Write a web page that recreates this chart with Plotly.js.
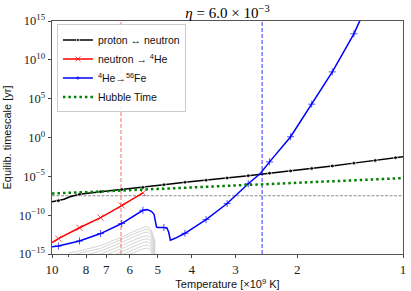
<!DOCTYPE html>
<html>
<head>
<meta charset="utf-8">
<script src="https://cdn.plot.ly/plotly-3.0.1.min.js"></script>
<style>html,body{margin:0;padding:0;background:#fff;}#chart{width:411px;height:291px;}</style>
</head>
<body>
<div id="chart"></div>
<script>
// Temperature in units of 1e9 K; timescales, stored as log10(yr)
const protonT      = [10, 9.59, 9.24, 8.89, 8.60, 8.35, 7.27, 6.33, 5.51, 4.80, 4.18, 3.64, 3.17, 2.76, 2.40, 2.09, 1.82, 1.59, 1.38, 1.20, 1.05, 1.0];
const protonLog10  = [-8.27, -8.14, -7.95, -7.63, -7.44, -7.31, -6.98, -6.70, -6.44, -6.08, -5.76, -5.50, -5.21, -4.92, -4.60, -4.30, -3.99, -3.66, -3.30, -2.96, -2.60, -2.47];
const protonMarked = [0, 1, 0, 0, 0, 1, 1, 1, 1, 1, 1, 1, 1, 1, 1, 1, 1, 1, 1, 1, 1, 0];

const neutronT     = [10, 9.59, 8.35, 7.27, 6.33, 5.51];
const neutronLog10 = [-13.53, -13.02, -11.62, -10.31, -8.76, -7.14];
const neutronMarked= [0, 1, 1, 1, 1, 1];

const heliumT      = [10, 9.59, 8.35, 7.27, 6.33, 5.51, 5.36, 5.21, 5.12, 5.07, 5.04, 4.99, 4.80, 4.70, 4.65, 4.60, 4.46, 4.18, 3.64, 3.17, 2.76, 2.55, 2.40, 2.09, 1.82, 1.59, 1.38, 1.31];
const heliumLog10  = [-14.07, -13.97, -13.32, -12.37, -11.08, -9.37, -9.27, -9.50, -9.88, -10.66, -11.52, -11.59, -11.59, -11.69, -12.20, -13.23, -12.98, -12.33, -10.57, -8.50, -5.95, -4.64, -3.14, 0.10, 4.29, 8.45, 13.35, 15.6];
const heliumMarked = [0, 1, 1, 1, 1, 1, 0, 0, 0, 0, 0, 0, 1, 0, 0, 0, 0, 1, 1, 1, 1, 0, 1, 1, 1, 1, 1, 0];

const hubbleT      = [10, 6, 4, 3, 2, 1.5, 1];
const hubbleLog10  = [-7.22, -6.78, -6.42, -6.17, -5.82, -5.57, -5.23];

const grayT = [9.0, 8.35, 7.27, 6.33, 5.51, 5.36, 5.25, 5.15, 5.08];
const grayLog10 = [
  [-14.9, -14.6, -13.9, -12.8, -11.6, -11.5, -11.75, -12.6, -13.6],
  [-15.2, -14.9, -14.25, -13.1, -11.95, -11.85, -12.05, -12.95, -13.9],
  [-15.5, -15.3, -14.6, -13.5, -12.3, -12.2, -12.4, -13.3, -14.3],
  [-15.9, -15.7, -15.0, -13.9, -12.75, -12.65, -12.85, -13.75, -14.7],
  [-16.3, -16.1, -15.4, -14.3, -13.15, -13.05, -13.25, -14.15, -15.1],
  [-16.7, -16.5, -15.8, -14.7, -13.55, -13.45, -13.65, -14.55, -15.5],
  [-17.1, -16.9, -16.2, -15.1, -13.95, -13.85, -14.05, -14.95, -15.9],
  [-17.5, -17.3, -16.6, -15.5, -14.35, -14.25, -14.45, -15.35, -16.3]
];

const neutronEqT = 6.36;   // red dashed vertical
const ironEqT    = 2.52;   // blue dashed vertical
const oneSecondYr = 3.17e-8; // gray dashed horizontal
const yLimits = [1e-15, 1e15];

const xTickVals = [10, 8, 7, 6, 5, 4, 3, 2, 1];
const xTickText = ['10', '8', '7', '6', '5', '4', '3', '2', '1'];
const yTickVals = [1e-15, 1e-10, 1e-5, 1, 1e5, 1e10, 1e15];
const yTickText = ['10<sup>−15</sup>', '10<sup>−10</sup>', '10<sup>−5</sup>', '10<sup>0</sup>', '10<sup>5</sup>', '10<sup>10</sup>', '10<sup>15</sup>'];

const toYr = a => a.map(v => Math.pow(10, v));
const sizes = (m, s) => m.map(v => v ? s : 0);

const traces = [];
grayLog10.forEach(g => traces.push({
  x: grayT, y: toYr(g), mode: 'lines', type: 'scatter', showlegend: false, hoverinfo: 'skip',
  line: {color: '#c8c8c8', width: 0.8, shape: 'spline', smoothing: 0.6}
}));
traces.push({x: [neutronEqT, neutronEqT], y: yLimits, mode: 'lines', showlegend: false,
  line: {color: 'rgba(255,60,60,0.75)', width: 1, dash: '4px,2px'}});
traces.push({x: [ironEqT, ironEqT], y: yLimits, mode: 'lines', showlegend: false,
  line: {color: '#3333ff', width: 1, dash: '4px,2px'}});
traces.push({x: [10, 1], y: [oneSecondYr, oneSecondYr], mode: 'lines', showlegend: false,
  line: {color: '#8c8c8c', width: 1, dash: '3px,1.5px'}});

traces.push({name: 'proton ↔ neutron', x: protonT, y: toYr(protonLog10), mode: 'lines+markers',
  line: {color: '#000', width: 1.5}, marker: {color: '#000', size: sizes(protonMarked, 4), symbol: 'circle'}});
traces.push({name: 'neutron → <sup>4</sup>He', x: neutronT, y: toYr(neutronLog10), mode: 'lines+markers',
  line: {color: '#ff0000', width: 1.5}, marker: {color: '#ff0000', size: sizes(neutronMarked, 6), symbol: 'x-thin', line: {color: '#ff0000', width: 1}}});
traces.push({name: '<sup>4</sup>He→<sup>56</sup>Fe', x: heliumT, y: toYr(heliumLog10), mode: 'lines+markers',
  line: {color: '#0000ff', width: 1.5}, marker: {color: '#0000ff', size: sizes(heliumMarked, 5), symbol: 'cross-thin', line: {color: '#0000ff', width: 1}}});
traces.push({name: 'Hubble Time', x: hubbleT, y: toYr(hubbleLog10), mode: 'lines',
  line: {color: '#008000', width: 2.5, dash: '2.5px,3px'}});

const serif = 'Liberation Serif, DejaVu Serif, serif';
const sans = 'Liberation Sans, Arial, sans-serif';
const layout = {
  width: 411, height: 291,
  margin: {l: 52, r: 8, t: 21, b: 37},
  paper_bgcolor: '#fff', plot_bgcolor: '#fff',
  title: {text: '<i>η</i> = 6.0 × 10<sup>−3</sup>', x: 0.5, xref: 'paper', y: 0.955, yanchor: 'middle',
    font: {family: serif, size: 15, color: '#000'}},
  xaxis: {type: 'log', range: [1, 0], tickvals: xTickVals, ticktext: xTickText,
    ticks: 'outside', ticklen: 3, tickcolor: '#444', showgrid: false, zeroline: false,
    showline: true, mirror: true, linecolor: '#555', linewidth: 1,
    tickfont: {family: serif, size: 13, color: '#222'},
    minor: {tickvals: [9], ticklen: 2, tickcolor: '#444', ticks: 'outside', showgrid: false},
    title: {text: 'Temperature [×10<sup>9</sup> K]', font: {family: sans, size: 11, color: '#111'}, standoff: 0}},
  yaxis: {type: 'log', range: [-15, 15], tickvals: yTickVals, ticktext: yTickText,
    ticks: 'outside', ticklen: 3.5, tickcolor: '#444', showgrid: false, zeroline: false,
    showline: true, mirror: true, linecolor: '#555', linewidth: 1,
    tickfont: {family: serif, size: 12.5, color: '#222'},
    title: {text: 'Equilib. timescale [yr]', font: {family: sans, size: 11, color: '#111'}, standoff: 4}},
  showlegend: true,
  legend: {x: 0.014, y: 0.985, xanchor: 'left', yanchor: 'top',
    bgcolor: 'rgba(255,255,255,0.85)', bordercolor: '#cccccc', borderwidth: 1,
    font: {family: sans, size: 10.5, color: '#111'}, tracegroupgap: 0}
};

Plotly.newPlot('chart', traces, layout, {staticPlot: true, displayModeBar: false});
</script>
</body>
</html>
